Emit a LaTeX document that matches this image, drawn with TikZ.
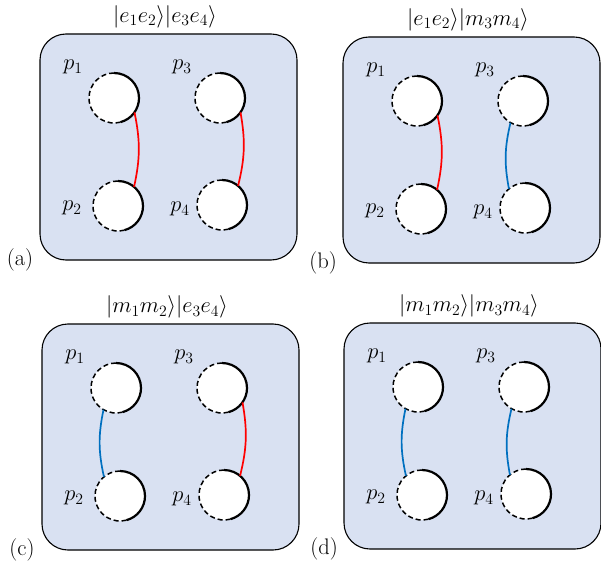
\RequirePackage{fix-cm}
\documentclass[tikz,border=0pt]{standalone}
\begin{document}
\definecolor{boxfill}{RGB}{217,225,242}
\definecolor{mblue}{RGB}{0,112,192}
\begin{tikzpicture}[x=1pt,y=1pt,
  boxst/.style={draw=black,line width=1.1pt,fill=boxfill,rounded corners=26pt},
  txt/.style={font=\fontsize{22.5}{26}\selectfont,inner sep=1pt},
  ball/.style={circle,fill=white,draw=none,minimum size=50pt,inner sep=0pt,outer sep=0pt},
  solidarc/.style={line width=2.2pt,black},
  dasharc/.style={line width=1.5pt,black,dash pattern=on 5pt off 3pt},
  econ/.style={line width=1.7pt,red},
  mcon/.style={line width=1.7pt,mblue}]
\useasboundingbox (0,0) rectangle (601,560);
\newcommand\econn[2]{\draw[econ] (#1.-35) to[bend left=12] (#2.50);}
\newcommand\mconn[2]{\draw[mcon] (#1.-120) to[bend right=12] (#2.130);}
\newcommand\ballat[2]{%
  \node[ball] (#1) at (#2) {};
  \draw[dasharc] (#1.90) arc[start angle=90,end angle=285,radius=25pt];
  \draw[solidarc] (#1.90) arc[start angle=90,end angle=-75,radius=25pt];}
\newcommand\panel[7]{%
 \begin{scope}[shift={(#2,560-#3)}]
  \draw[boxst] (0,0) rectangle (257,-226);
  \node[txt] (#1t) at (125,17) {$|#4\rangle$};
  \node[txt] (#1l) at (-20,-226) {(#5)};
  \node[txt] (#1q1) at (33,-33) {$p_1$};
  \node[txt] (#1q2) at (32,-174) {$p_2$};
  \node[txt] (#1q3) at (142,-33) {$p_3$};
  \node[txt] (#1q4) at (140,-175) {$p_4$};
  \ballat{#1p1}{74,-64}
  \ballat{#1p2}{78,-172}
  \ballat{#1p3}{180,-64}
  \ballat{#1p4}{182,-171}
  #6{#1p1}{#1p2}
  #7{#1p3}{#1p4}
 \end{scope}}
\panel{a}{40}{34}{e_1e_2\rangle|e_3e_4}{a}{\econn}{\econn}
\panel{b}{343}{37}{e_1e_2\rangle|m_3m_4}{b}{\econn}{\mconn}
\panel{c}{42}{324}{m_1m_2\rangle|e_3e_4}{c}{\mconn}{\econn}
\panel{d}{344}{323}{m_1m_2\rangle|m_3m_4}{d}{\mconn}{\mconn}
\end{tikzpicture}
\end{document}
